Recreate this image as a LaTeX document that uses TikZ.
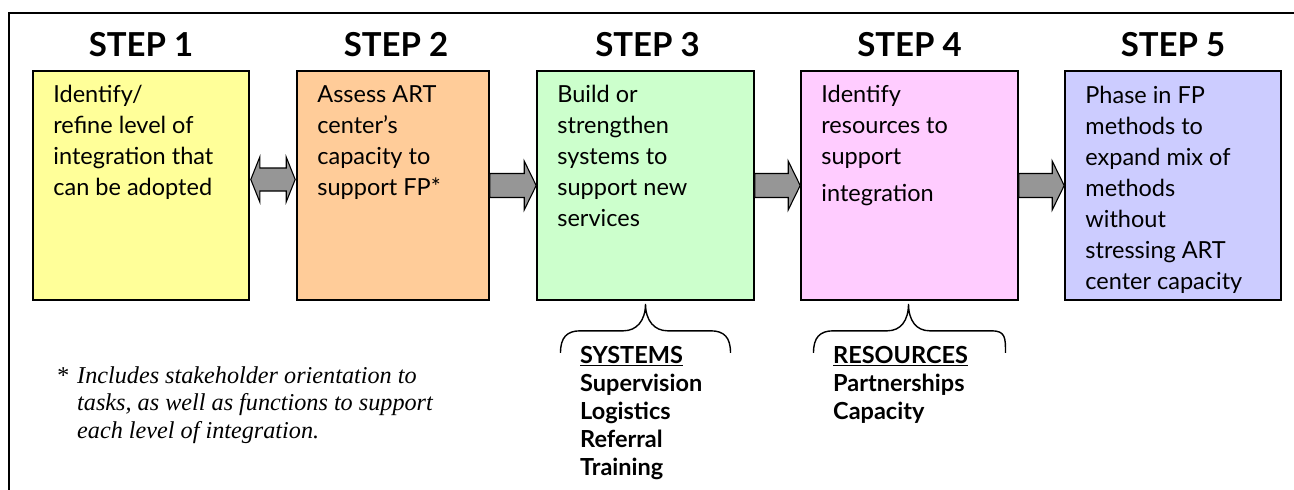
\documentclass[tikz,border=0pt]{standalone}
\usepackage{fontspec}
\setmainfont{Lato}
\newfontfamily\notefont{Liberation Serif}
\usetikzlibrary{calc}
\definecolor{cone}{HTML}{FFFF99}
\definecolor{ctwo}{HTML}{FFCC99}
\definecolor{cthree}{HTML}{CCFFCC}
\definecolor{cfour}{HTML}{FFCCFF}
\definecolor{cfive}{HTML}{CCCCFF}
\definecolor{arrowgray}{HTML}{969696}
\tikzset{
  stepbox/.style={draw=black, line width=1.6pt, minimum width=216pt, minimum height=229pt, inner sep=0pt},
  boxtext/.style={align=left, inner sep=0pt, anchor=north west, font=\fontsize{23.5}{31}\selectfont},
  heading/.style={inner sep=0pt, anchor=base, font=\bfseries\fontsize{33}{36}\selectfont},
  arrowshape/.style={draw=black, line width=1.1pt, fill=arrowgray, line join=miter},
  bracestyle/.style={draw=black, line width=1.4pt},
  listtext/.style={align=left, inner sep=0pt, anchor=north west, font=\bfseries\fontsize{23.5}{28}\selectfont},
  notetext/.style={align=left, inner sep=0pt, font=\notefont\itshape\fontsize{24.2}{27.5}\selectfont},
}
\newcommand\stepArrow[2]{%
  \draw[arrowshape] ($(#1)+(0,-12)$) -- ($(#2)+(-12,-12)$) -- ($(#2)+(-12,-24.5)$) -- (#2)
    -- ($(#2)+(-12,24.5)$) -- ($(#2)+(-12,12)$) -- ($(#1)+(0,12)$) -- cycle;}
\begin{document}
\begin{tikzpicture}[x=1pt,y=-1pt]
\useasboundingbox (0,0) rectangle (1294,490);
% frame
\draw[line width=2pt] (9,490) -- (9,13) -- (1294,13);

% boxes
\node[stepbox, fill=cone] (b1) at (141,185.5) {};
\node[stepbox, fill=ctwo, minimum width=192pt] (b2) at (393,185.5) {};
\node[stepbox, fill=cthree, minimum width=217pt] (b3) at (645.5,185.5) {};
\node[stepbox, fill=cfour, minimum width=217pt] (b4) at (909.5,185.5) {};
\node[stepbox, fill=cfive] (b5) at (1173,185.5) {};

% headings
\node[heading] (h1) at ([shift={(0,-14)}]b1.north) {STEP 1};
\node[heading] (h2) at ([shift={(3,-14)}]b2.north) {STEP 2};
\node[heading] (h3) at ([shift={(2,-14)}]b3.north) {STEP 3};
\node[heading] (h4) at ([shift={(0,-14)}]b4.north) {STEP 4};
\node[heading] (h5) at ([shift={(0,-14)}]b5.north) {STEP 5};

% box texts
\node[boxtext] (t1) at ([shift={(21,10)}]b1.north west) {\strut Identify/\\refine level of\\integration that\\can be adopted};
\node[boxtext] (t2) at ([shift={(21,10)}]b2.north west) {\strut Assess ART\\center’s\\capacity to\\support FP*};
\node[boxtext] (t3) at ([shift={(21,10)}]b3.north west) {\strut Build or\\strengthen\\systems to\\support new\\services};
\node[boxtext] (t4) at ([shift={(21,10)}]b4.north west) {\strut Identify\\resources to\\support\\[6pt]integration};
\node[boxtext] (t5) at ([shift={(21,11)}]b5.north west) {\strut Phase in FP\\methods to\\expand mix of\\methods\\without\\stressing ART\\center capacity};

% arrows
\coordinate (d1) at ($(b1.east)+(1,-6)$);
\coordinate (d2) at ($(b2.west)+(-1,-6)$);
\draw[arrowshape] (d1) -- ($(d1)+(9,-22.5)$) -- ($(d1)+(9,-11.5)$) -- ($(d2)+(-9,-11.5)$)
  -- ($(d2)+(-9,-22.5)$) -- (d2) -- ($(d2)+(-9,22.5)$) -- ($(d2)+(-9,11.5)$)
  -- ($(d1)+(9,11.5)$) -- ($(d1)+(9,22.5)$) -- cycle;
\stepArrow{b2.east}{b3.west}
\stepArrow{b3.east}{b4.west}
\stepArrow{b4.east}{b5.west}

% braces
\begin{scope}[shift={(b3.south)}]
\draw[bracestyle] (-85,52) .. controls (-85,37) and (-79,30) .. (-65,30) -- (-22,30)
  .. controls (-9,30) and (0,20) .. (0,3) .. controls (0,20) and (9,30) .. (22,30)
  -- (65,30) .. controls (79,30) and (85,37) .. (85,52);
\end{scope}
\begin{scope}[shift={(b4.south)}]
\draw[bracestyle] (-96,52) .. controls (-96,37) and (-90,30) .. (-76,30) -- (-22,30)
  .. controls (-9,30) and (-1,20) .. (-1,3) .. controls (-1,20) and (7,30) .. (20,30)
  -- (82,30) .. controls (96,30) and (96,37) .. (96,52);
\end{scope}

% lists
\node[listtext] (sys) at (580,344) {\strut\underline{SYSTEMS}\\Supervision\\Logistics\\Referral\\Training};
\node[listtext] (res) at (833,344) {\strut\underline{RESOURCES}\\Partnerships\\Capacity};

% footnote
\node[notetext, anchor=base west] (star) at (56,383) {*};
\node[notetext, anchor=north west] (note) at (77,364) {\strut Includes stakeholder orientation to\\tasks, as well as functions to support\\each level of integration.};
\end{tikzpicture}
\end{document}
